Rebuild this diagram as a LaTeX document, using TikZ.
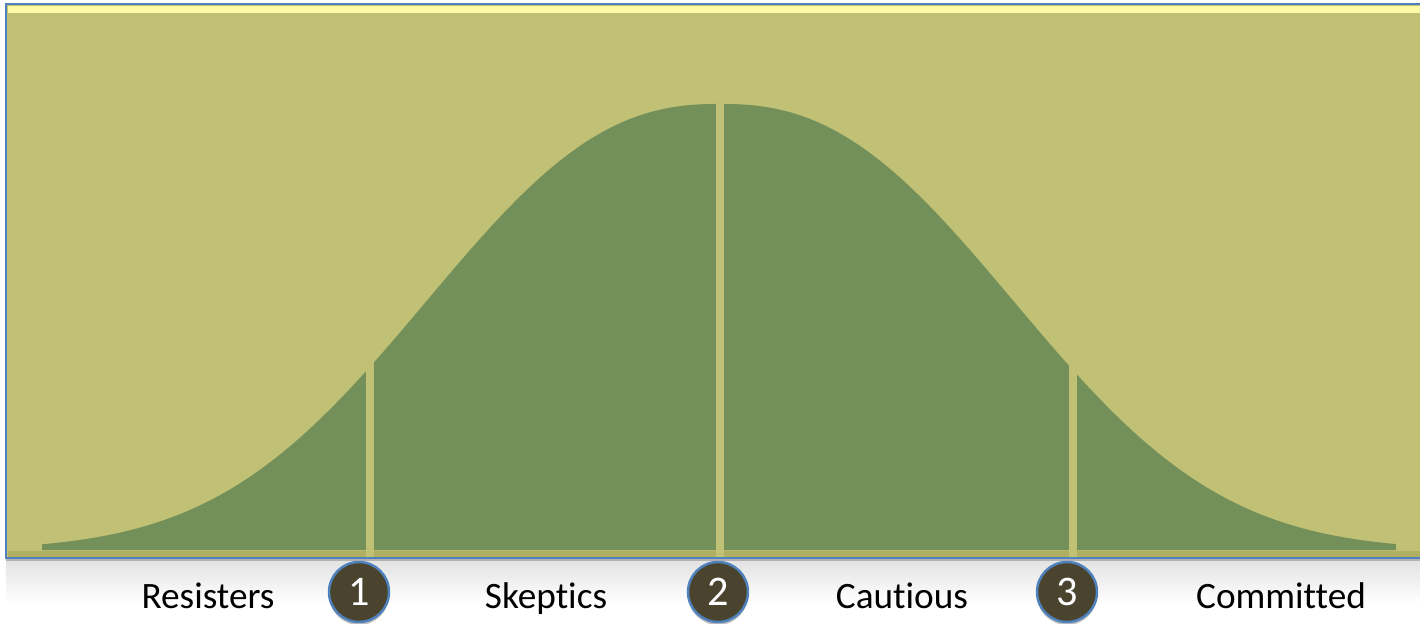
\documentclass[tikz,border=0pt]{standalone}
\usepackage{fontspec}
\setmainfont{Carlito}[Ligatures=NoCommon]
\definecolor{khaki}{RGB}{193,193,117}
\definecolor{khakidark}{RGB}{176,174,98}
\definecolor{bellgreen}{RGB}{115,143,90}
\definecolor{rimblue}{RGB}{79,129,189}
\definecolor{stepbrown}{RGB}{74,68,46}
\begin{document}
\begin{tikzpicture}[font=\fontsize{10.6}{12}\selectfont,
  marker/.style={circle,draw=rimblue,line width=0.7pt,fill=stepbrown,text=white,
    minimum size=0.6cm,inner sep=0pt,font=\fontsize{12}{14}\selectfont},
  group/.style={text=black,inner sep=0pt,anchor=base}]
\useasboundingbox (0,0) rectangle (14.2,6.23);
% panel
\shade[top color=gray!22,bottom color=white] (0.06,0.20) rectangle (14.3,0.62);
\fill[gray!60] (0.06,0.62) rectangle (14.3,0.65);
\fill[khaki] (0.06,0.65) rectangle (14.3,6.19);
\fill[yellow!35!white] (0.08,6.10) rectangle (14.3,6.17);
\fill[khakidark] (0.08,0.66) rectangle (14.3,0.72);
% bell curve
\fill[bellgreen,domain=0.42:13.96,samples=160]
  (0.42,0.73) -- plot (\x,{0.73+4.46*exp(-0.044*(abs(\x-7.2)+0.001)^2.4)}) -- (13.96,0.73) -- cycle;
\foreach \x in {3.70,7.20,10.73}
  \draw[khaki,line width=0.08cm] (\x,0.66) -- (\x,5.6);
\draw[rimblue,line width=0.8pt] (14.3,6.19) -- (0.06,6.19) -- (0.06,0.65) -- (14.3,0.65);
% labels
\node[group] (resisters) at (2.08,0.15) {Resisters};
\node[group] (skeptics) at (5.46,0.15) {Skeptics};
\node[group] (cautious) at (9.02,0.15) {Cautious};
\node[group] (committed) at (12.81,0.15) {Committed};
\foreach \n/\x in {1/3.59,2/7.18,3/10.67}{
  \fill[gray!50] (\x,0.28) circle (0.30);
  \node[marker] (step\n) at (\x,0.31) {\n};
}
\end{tikzpicture}
\end{document}
